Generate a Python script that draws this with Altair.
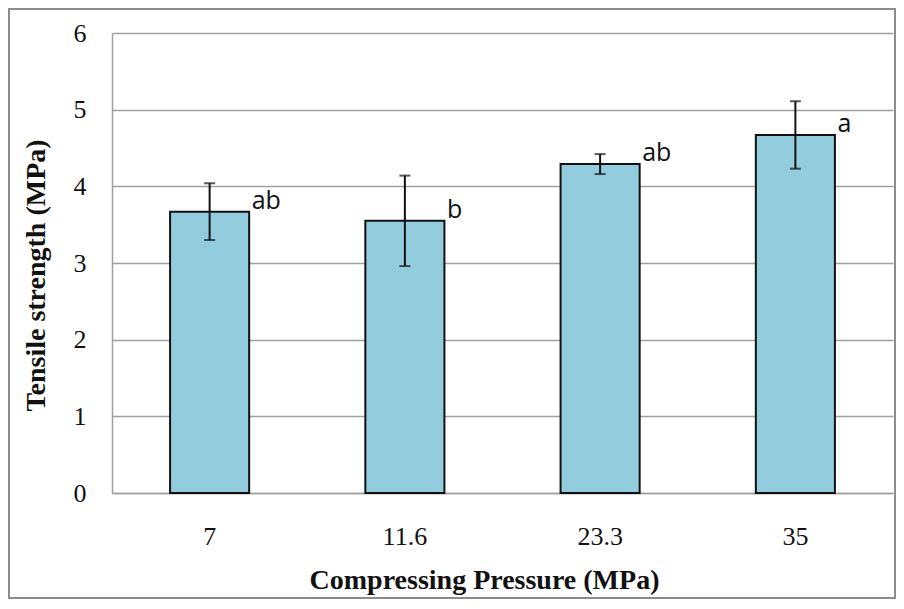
import altair as alt
import pandas as pd

pressure = ["7", "11.6", "23.3", "35"]
strength = [3.67, 3.55, 4.29, 4.67]
std_dev = [0.37, 0.59, 0.13, 0.44]
letters = ["ab", "b", "ab", "a"]
y_ticks = [0, 1, 2, 3, 4, 5, 6]

df = pd.DataFrame({
    "pressure": pressure,
    "strength": strength,
    "lo": [m - s for m, s in zip(strength, std_dev)],
    "hi": [m + s for m, s in zip(strength, std_dev)],
    "letter": letters,
})

serif = "Liberation Serif"

x_enc = alt.X(
    "pressure:N",
    sort=pressure,
    scale=alt.Scale(paddingInner=0.595, paddingOuter=0.2975),
    axis=alt.Axis(
        title="Compressing Pressure (MPa)",
        labelAngle=0,
        labelFont=serif,
        labelFontSize=26,
        labelColor="#111111",
        labelPadding=30,
        ticks=False,
        domainColor="#a0a0a0",
        domainWidth=1.5,
        titleFont=serif,
        titleFontSize=28,
        titleFontWeight="bold",
        titleColor="#111111",
        titleX=372,
        titleY=95,
        titleAlign="center",
        titleBaseline="alphabetic",
    ),
)

y_scale = alt.Scale(domain=[0, 6], nice=False)

bars = alt.Chart(df).mark_bar(
    fill="#93CDDD", stroke="#111111", strokeWidth=2
).encode(
    x=x_enc,
    y=alt.Y(
        "strength:Q",
        scale=y_scale,
        axis=alt.Axis(
            title="Tensile strength (MPa)",
            values=y_ticks,
            format="d",
            labelFont=serif,
            labelFontSize=26,
            labelColor="#111111",
            labelPadding=26,
            ticks=False,
            grid=True,
            gridColor="#a0a0a0",
            gridWidth=1.5,
            domainColor="#a0a0a0",
            domainWidth=1.5,
            titleFont=serif,
            titleFontSize=28,
            titleFontWeight="bold",
            titleColor="#111111",
            titleAngle=270,
            titleX=-68,
            titleY=242,
            titleAlign="center",
            titleBaseline="alphabetic",
        ),
    ),
)

err = alt.Chart(df).mark_rule(color="#111111", strokeWidth=2).encode(
    x=alt.X("pressure:N", sort=pressure),
    y=alt.Y("lo:Q", scale=y_scale),
    y2="hi:Q",
)

cap_lo = alt.Chart(df).mark_tick(color="#111111", thickness=2, size=11).encode(
    x=alt.X("pressure:N", sort=pressure),
    y=alt.Y("lo:Q", scale=y_scale),
)
cap_hi = alt.Chart(df).mark_tick(color="#111111", thickness=2, size=11).encode(
    x=alt.X("pressure:N", sort=pressure),
    y=alt.Y("hi:Q", scale=y_scale),
)

labels = alt.Chart(df).mark_text(
    align="left", baseline="alphabetic", dx=42, dy=-3,
    font="Open Sans", fontSize=25, color="#111111"
).encode(
    x=alt.X("pressure:N", sort=pressure),
    y=alt.Y("strength:Q", scale=y_scale),
    text="letter:N",
)

frame = alt.Chart(alt.Data(values=[{"f": 1}])).mark_rect(
    fill="transparent", stroke="#8c8c8c", strokeWidth=2
).encode(
    x=alt.value(-103), x2=alt.value(783), y=alt.value(-24), y2=alt.value(565)
)

chart = alt.layer(frame, bars, err, cap_lo, cap_hi, labels).properties(
    width=781,
    height=460,
    padding={"left": 104, "top": 25, "right": 3, "bottom": 107},
    autosize=alt.AutoSizeParams(type="none"),
    background="white",
).configure_view(stroke=None)

chart.save("out.html", embed_options={"renderer": "svg", "actions": False})
